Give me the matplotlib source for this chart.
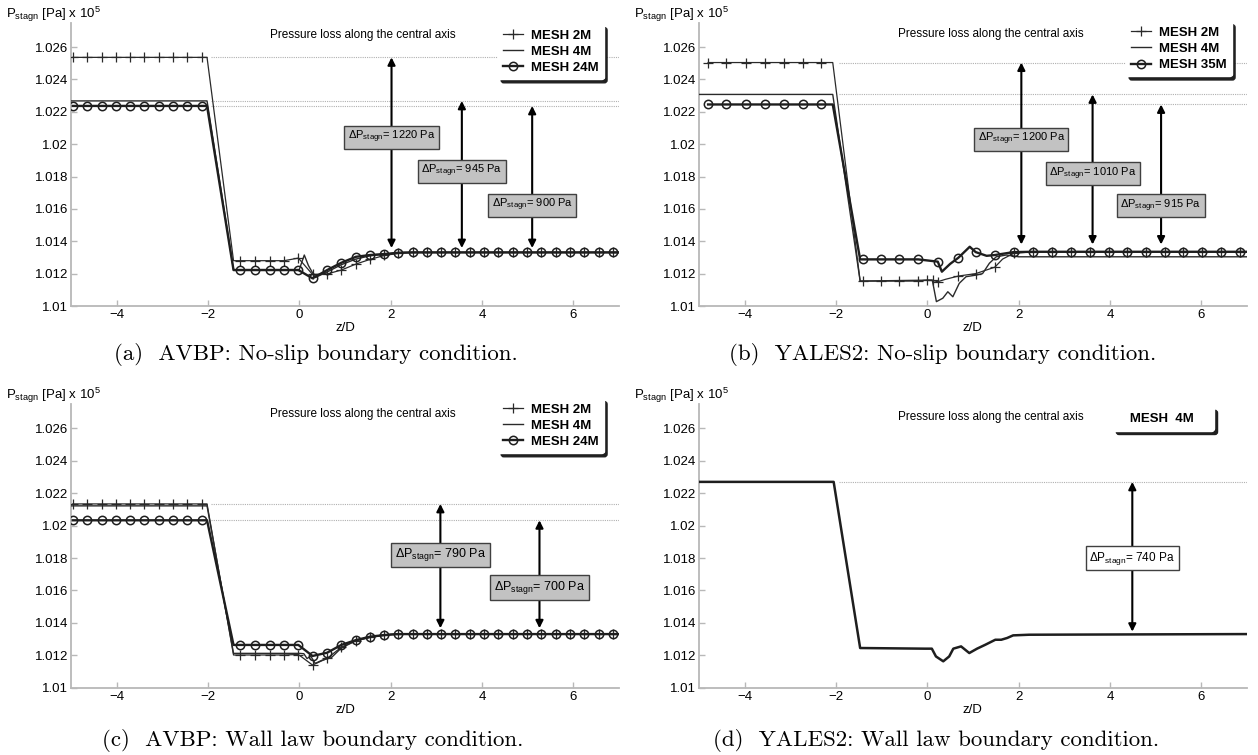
import matplotlib
matplotlib.use('Agg')
import matplotlib.pyplot as plt
from matplotlib.lines import Line2D
from matplotlib.ticker import FuncFormatter

# Main font is an Arial look-alike; the delta-P boxes use a condensed setting.
plt.rcParams['font.family'] = ['Liberation Sans', 'DejaVu Sans']
plt.rcParams['mathtext.fontset'] = 'custom'
plt.rcParams['mathtext.rm'] = 'Liberation Sans'
plt.rcParams['mathtext.it'] = 'Liberation Sans:italic'
plt.rcParams['mathtext.bf'] = 'Liberation Sans:bold'

# Marker positions (z/D) of the two codes' sampling points.
grid_avbp = [-4.96, -4.65, -4.33, -4.02, -3.70, -3.39, -3.08, -2.76, -2.45, -2.13,
             -1.29, -0.97, -0.65, -0.33, -0.02, 0.29, 0.61, 0.92, 1.24, 1.55, 1.86,
             2.17, 2.48, 2.80, 3.11, 3.42, 3.74, 4.05, 4.36, 4.68, 4.99, 5.30, 5.62,
             5.93, 6.24, 6.56, 6.87]
grid_yales = [-4.80, -4.40, -3.97, -3.56, -3.14, -2.73, -2.32,
              -1.40, -1.02, -0.61, -0.20, 0.00, 0.12, 0.23, 0.68, 1.06, 1.48, 1.89,
              2.31, 2.73, 3.14, 3.56, 3.97, 4.38, 4.79, 5.20, 5.61, 6.02, 6.43, 6.84]

tail_avbp = [2.48, 2.80, 3.11, 3.42, 3.74, 4.05, 4.36, 4.68, 4.99, 5.30, 5.62, 5.93, 6.24, 6.56, 6.87, 7.0]
tail_yales = [2.31, 2.73, 3.14, 3.56, 3.97, 4.38, 4.79, 5.20, 5.61, 6.02, 6.43, 6.84, 7.0]

# (a) AVBP, no-slip
a_2m_z = [-4.96, -4.65, -4.33, -4.02, -3.70, -3.39, -3.08, -2.76, -2.45, -2.13, -2.02, -1.44,
          -1.29, -0.97, -0.65, -0.33, -0.02, 0.29, 0.61, 0.92, 1.24, 1.55, 1.86, 2.17] + tail_avbp
a_2m_p = [1.02536] * 11 + [1.0128] * 5 + [1.01296, 1.01195, 1.01198, 1.01222, 1.01259, 1.01288,
                                          1.01312, 1.01325] + [1.01331] * 16
a_4m_z = [-5.0, -2.02, -1.44, 0.0, 0.11, 0.2, 0.35, 0.61, 0.92, 1.24, 1.55, 1.86, 2.3, 7.0]
a_4m_p = [1.02267, 1.02267, 1.01225, 1.01225, 1.01315, 1.0125, 1.01176, 1.0121, 1.01255,
          1.0129, 1.0131, 1.0132, 1.01331, 1.01331]
a_24m_z = [-4.96, -4.65, -4.33, -4.02, -3.70, -3.39, -3.08, -2.76, -2.45, -2.13, -2.02, -1.44,
           -1.29, -0.97, -0.65, -0.33, -0.02, 0.29, 0.61, 0.92, 1.24, 1.55, 1.86, 2.17] + tail_avbp
a_24m_p = [1.02236] * 11 + [1.01222] * 6 + [1.01171, 1.01222, 1.01267, 1.01304, 1.01315,
                                            1.01321, 1.01329] + [1.01331] * 16

# (b) YALES2, no-slip
b_2m_z = [-4.80, -4.40, -3.97, -3.56, -3.14, -2.73, -2.32, -2.07, -1.47,
          -1.40, -1.02, -0.61, -0.20, 0.00, 0.12, 0.23, 0.40, 0.68, 1.06, 1.48, 1.65, 1.89] + tail_yales
b_2m_p = [1.02504] * 8 + [1.01154] * 5 + [1.0116, 1.01158, 1.0115, 1.01165, 1.01185, 1.012,
                                          1.0124, 1.0129, 1.01325] + [1.01335] * 13
b_4m_z = [-5.0, -2.07, -1.47, 0.11, 0.20, 0.34, 0.45, 0.56, 0.70, 0.85, 1.07, 1.21, 1.36,
          1.51, 1.73, 2.0, 7.0]
b_4m_p = [1.02307, 1.02307, 1.01154, 1.0116, 1.01027, 1.01048, 1.01088, 1.01057, 1.0114,
          1.01181, 1.01191, 1.012, 1.01264, 1.01304, 1.01315, 1.01304, 1.01304]
b_35m_z = [-4.80, -4.40, -3.97, -3.56, -3.14, -2.73, -2.32, -2.07, -1.47,
           -1.40, -1.02, -0.61, -0.20, 0.23, 0.32, 0.50, 0.68, 0.93, 1.06, 1.30, 1.48, 1.89] + tail_yales
b_35m_p = [1.02245] * 8 + [1.01288] * 5 + [1.01274, 1.01212, 1.0126, 1.01298, 1.01366, 1.01333,
                                           1.0131, 1.01315, 1.01333] + [1.01335] * 13

# (c) AVBP, wall law
c_2m_z = a_2m_z
c_2m_p = [1.02134] * 11 + [1.01202] * 5 + [1.01205, 1.0114, 1.01181, 1.0125, 1.0129, 1.01312,
                                           1.01325, 1.01331] + [1.01331] * 16
c_4m_z = [-5.0, -2.02, -1.44, 0.0, 0.1, 0.17, 0.25, 0.35, 0.5, 0.7, 0.92, 1.24, 1.55, 2.0, 7.0]
c_4m_p = [1.02122, 1.02122, 1.01212, 1.01212, 1.0121, 1.0118, 1.01195, 1.0115, 1.0117,
          1.01185, 1.01245, 1.0129, 1.0131, 1.0133, 1.01331]
c_24m_z = a_24m_z
c_24m_p = [1.02033] * 11 + [1.01264] * 6 + [1.01196, 1.01216, 1.01264, 1.01294, 1.01315,
                                            1.01325, 1.01331] + [1.01331] * 16

# (d) YALES2, wall law
d_4m_z = [-5.0, -2.05, -1.47, -0.05, 0.10, 0.19, 0.35, 0.48, 0.57, 0.74, 0.92, 1.09, 1.27,
          1.49, 1.62, 1.75, 1.88, 2.23, 7.0]
d_4m_p = [1.0227, 1.0227, 1.01245, 1.01241, 1.01241, 1.01193, 1.01163, 1.01193, 1.01241,
          1.01255, 1.01214, 1.01241, 1.01265, 1.01296, 1.01296, 1.01307, 1.01323, 1.01327, 1.01331]

# Pressure-loss annotations: arrow positions, upstream levels, box heights, labels.
a_arrow_z = [2.02, 3.56, 5.10]
a_levels = [1.02536, 1.02267, 1.02236]
a_box_p = [1.02043, 1.01833, 1.01623]
a_dp = ['1220', '945', '900']

b_arrow_z = [2.06, 3.62, 5.12]
b_levels = [1.02504, 1.02307, 1.02245]
b_box_p = [1.02031, 1.01819, 1.01619]
b_dp = ['1200', '1010', '915']

c_arrow_z = [3.09, 5.26]
c_levels = [1.02134, 1.02033]
c_box_p = [1.01819, 1.01617]
c_dp = ['790', '700']

d_arrow_z = [4.49]
d_levels = [1.0227]
d_box_p = [1.018]
d_dp = ['740']

captions = ['(a)  AVBP: No-slip boundary condition.',
            '(b)  YALES2: No-slip boundary condition.',
            '(c)  AVBP: Wall law boundary condition.',
            '(d)  YALES2: Wall law boundary condition.']

y_ticks = [1.010, 1.012, 1.014, 1.016, 1.018, 1.020, 1.022, 1.024, 1.026]
x_ticks = [-4, -2, 0, 2, 4, 6]

INK = '#1e1e1e'
AXIS_GREY = '#b8b8b8'


def style_for(name):
    if name == '2M':
        return dict(marker='+', markersize=7, markeredgewidth=0.9, lw=0.9, color='#2a2a2a')
    if name == '4M':
        return dict(lw=1.0, color='#2a2a2a')
    return dict(marker='o', markersize=6, markerfacecolor='none', markeredgewidth=1.1,
                lw=1.7, color=INK)


def draw_panel(ax, series, grid, levels, arrow_z, box_p, dp, box_face, text_p, legend_top, bottom_tip, box_size, solo=False):
    for name, zs, ps in series:
        marks = [i for i, z in enumerate(zs) if z in grid]
        kw = style_for(name)
        if solo:
            kw = dict(lw=1.8, color=INK)
        ax.plot(zs, ps, markevery=marks if marks else None, zorder=3, **kw)

    # Dotted reference levels upstream.
    ax.hlines(levels, -1.93, 7.0, colors='#b0b0b0', linestyles=(0, (1, 1)), lw=0.8, zorder=1)

    # Double arrows and delta-P boxes.
    for z, top, bp, txt in zip(arrow_z, levels, box_p, dp):
        ax.annotate('', xy=(z, top), xytext=(z, bottom_tip),
                    arrowprops=dict(arrowstyle='<|-|>', color='black', lw=1.5,
                                    mutation_scale=11, shrinkA=0, shrinkB=0), zorder=4)
        ax.text(z, bp, '\u0394P$_{\\mathrm{stagn}}$= ' + txt + ' Pa', ha='center', va='center',
                fontsize=box_size, fontstretch='condensed', zorder=5,
                bbox=dict(boxstyle='square,pad=0.3', facecolor=box_face, edgecolor='#404040', lw=1.0))

    ax.text(1.4, text_p, 'Pressure loss along the central axis', ha='center', va='center', fontsize=8.5)

    ax.set_xlim(-5, 7)
    ax.set_ylim(1.010, 1.0275)
    ax.set_xticks(x_ticks)
    ax.set_yticks(y_ticks)
    ax.yaxis.set_major_formatter(FuncFormatter(lambda v, _: '%g' % round(v, 3)))
    ax.spines[['top', 'right']].set_visible(False)
    for side in ['left', 'bottom']:
        ax.spines[side].set_color(AXIS_GREY)
        ax.spines[side].set_linewidth(1.3)
    ax.tick_params(direction='in', length=4, width=1, color=AXIS_GREY, labelsize=9.5, pad=2)
    ax.set_xlabel('z/D', fontsize=9.5, labelpad=1)
    ax.text(-0.118, 1.03, 'P$_{\\mathrm{stagn}}$ [Pa] x 10$^5$', transform=ax.transAxes,
            fontsize=9.5, ha='left', va='center')

    # MATLAB-like legend with a solid drop shadow.
    shadow = {'color': '#202020', 'alpha': 1, 'ox': 2.5, 'oy': -2.5}
    if solo:
        handles = [Line2D([], [], color='none')]
        names = ['   MESH  4M    ']
        leg = ax.legend(handles, names, loc='upper right', bbox_to_anchor=(0.94, legend_top),
                        handlelength=0, handletextpad=0, borderpad=0.45, borderaxespad=0,
                        prop=dict(weight='bold', size=9.5), fancybox=True, edgecolor='white',
                        framealpha=1, shadow=shadow)
    else:
        handles = []
        names = []
        for name, _, _ in series:
            kw = style_for(name)
            handles.append(Line2D([], [], **kw))
            names.append('MESH ' + name)
        leg = ax.legend(handles, names, loc='upper right', bbox_to_anchor=(0.972, legend_top),
                        handlelength=1.5, handletextpad=0.6, labelspacing=0.3, borderpad=0.4,
                        borderaxespad=0, prop=dict(weight='bold', size=9.5), fancybox=True,
                        edgecolor='white', framealpha=1, shadow=shadow)
    leg.set_zorder(6)


fig = plt.figure(figsize=(12.58, 7.55), dpi=100, facecolor='white')
ax_a = fig.add_axes([0.0564, 0.5947, 0.4356, 0.3752])
ax_b = fig.add_axes([0.5556, 0.5947, 0.4356, 0.3752])
ax_c = fig.add_axes([0.0564, 0.0891, 0.4356, 0.3757])
ax_d = fig.add_axes([0.5556, 0.0891, 0.4356, 0.3757])

draw_panel(ax_a, [('2M', a_2m_z, a_2m_p), ('4M', a_4m_z, a_4m_p), ('24M', a_24m_z, a_24m_p)],
           grid_avbp, a_levels, a_arrow_z, a_box_p, a_dp, '#c2c2c2', 1.02673, 0.995, 1.01358, 8)
draw_panel(ax_b, [('2M', b_2m_z, b_2m_p), ('4M', b_4m_z, b_4m_p), ('35M', b_35m_z, b_35m_p)],
           grid_yales, b_levels, b_arrow_z, b_box_p, b_dp, '#c2c2c2', 1.02679, 1.005, 1.0138, 8)
draw_panel(ax_c, [('2M', c_2m_z, c_2m_p), ('4M', c_4m_z, c_4m_p), ('24M', c_24m_z, c_24m_p)],
           grid_avbp, c_levels, c_arrow_z, c_box_p, c_dp, '#c2c2c2', 1.02688, 1.021, 1.01367, 9)
draw_panel(ax_d, [('4M', d_4m_z, d_4m_p)],
           [], d_levels, d_arrow_z, d_box_p, d_dp, 'white', 1.02669, 0.99, 1.01346, 8.5, solo=True)

# Sub-figure captions in a Computer Modern face.
caption_xy = [(316, 355), (943, 355), (313, 741), (936, 741)]
for text, (px, py) in zip(captions, caption_xy):
    fig.text(px / 1258, 1 - py / 755, text, ha='center', va='center', fontsize=16.5, family='cmr10')

fig.savefig('out.png', dpi=100)
